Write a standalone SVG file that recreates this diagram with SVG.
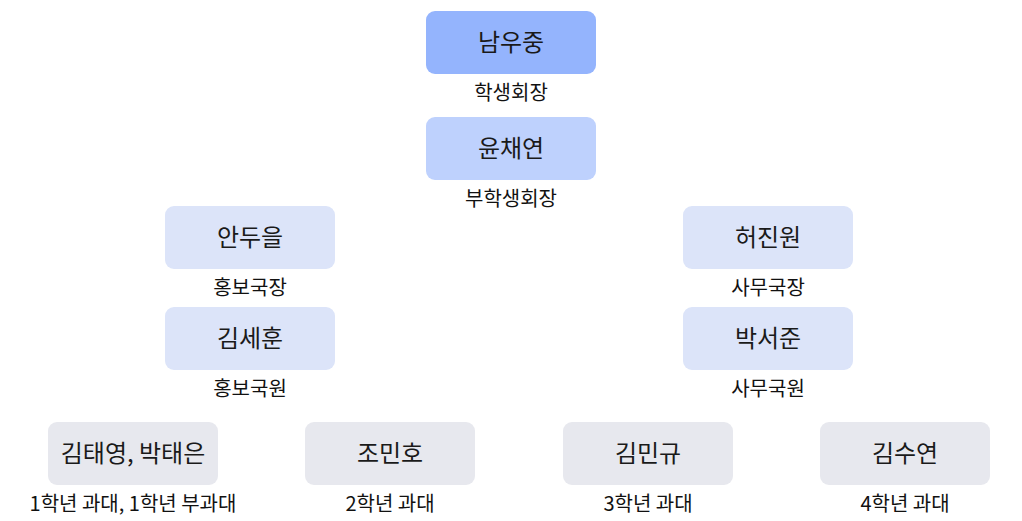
<svg xmlns="http://www.w3.org/2000/svg" width="1022" height="521" viewBox="0 0 1022 521">
<style>
.n{font-family:"Noto Sans CJK KR","Noto Sans",sans-serif;font-size:24px;fill:#1a1a1a;text-anchor:middle}
.l{font-family:"Noto Sans CJK KR","Noto Sans",sans-serif;font-size:20px;fill:#111;text-anchor:middle}
.c1{fill:#94b4fd}.c2{fill:#bed1fd}.c3{fill:#dce4f9}.c4{fill:#e7e8ee}
</style>
<rect width="1022" height="521" fill="#fff"/>
<g id="connectors"/>
<g id="n1"><rect class="c1" x="426" y="11" width="170" height="63" rx="9"/><text class="n" x="511" y="51">남우중</text><text class="l" x="511" y="100">학생회장</text></g>
<g id="n2"><rect class="c2" x="426" y="117" width="170" height="63" rx="9"/><text class="n" x="511" y="157">윤채연</text><text class="l" x="511" y="206">부학생회장</text></g>
<g id="n3"><rect class="c3" x="165" y="206" width="170" height="63" rx="9"/><text class="n" x="250" y="246">안두을</text><text class="l" x="250" y="295">홍보국장</text></g>
<g id="n4"><rect class="c3" x="165" y="307" width="170" height="63" rx="9"/><text class="n" x="250" y="347">김세훈</text><text class="l" x="250" y="396">홍보국원</text></g>
<g id="n5"><rect class="c3" x="683" y="206" width="170" height="63" rx="9"/><text class="n" x="768" y="246">허진원</text><text class="l" x="768" y="295">사무국장</text></g>
<g id="n6"><rect class="c3" x="683" y="307" width="170" height="63" rx="9"/><text class="n" x="768" y="347">박서준</text><text class="l" x="768" y="396">사무국원</text></g>
<g id="n7"><rect class="c4" x="48" y="422" width="170" height="63" rx="9"/><text class="n" x="133" y="462">김태영, 박태은</text><text class="l" x="133" y="511">1학년 과대, 1학년 부과대</text></g>
<g id="n8"><rect class="c4" x="305" y="422" width="170" height="63" rx="9"/><text class="n" x="390" y="462">조민호</text><text class="l" x="390" y="511">2학년 과대</text></g>
<g id="n9"><rect class="c4" x="563" y="422" width="170" height="63" rx="9"/><text class="n" x="648" y="462">김민규</text><text class="l" x="648" y="511">3학년 과대</text></g>
<g id="n10"><rect class="c4" x="820" y="422" width="170" height="63" rx="9"/><text class="n" x="905" y="462">김수연</text><text class="l" x="905" y="511">4학년 과대</text></g>
</svg>
